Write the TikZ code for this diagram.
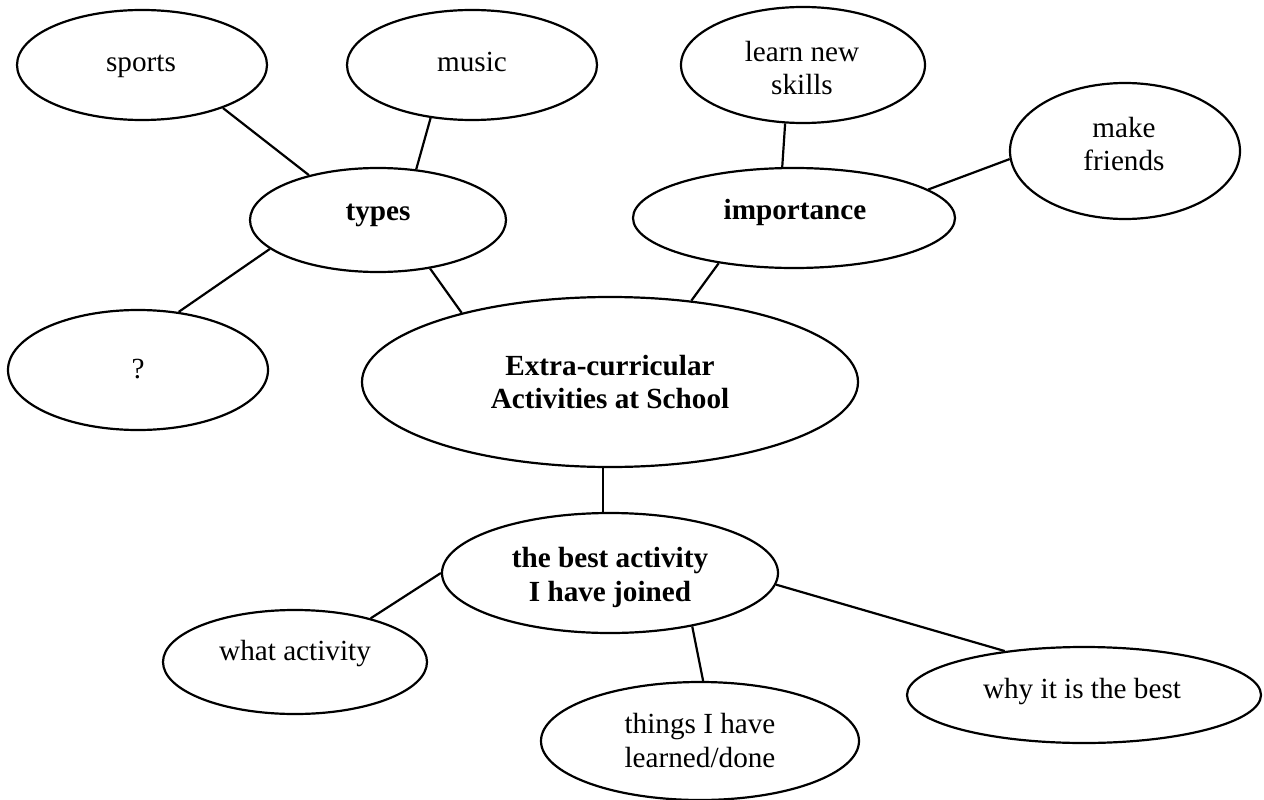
\documentclass[tikz,border=0pt]{standalone}
\usepackage{fontspec}
\setmainfont{Liberation Serif}
\usetikzlibrary{shapes.geometric}
\begin{document}
\begin{tikzpicture}[x=1pt,y=-1pt,
  bub/.style={draw=black,line width=2.2pt,ellipse,inner sep=0pt},
  txt/.style={inner sep=0pt,anchor=base,font=\fontsize{29.2}{33}\selectfont},
  btxt/.style={txt,font=\fontsize{29.2}{33}\selectfont\bfseries},
  link/.style={draw=black,line width=2.2pt}]
\useasboundingbox (0,0) rectangle (1264,800);
% ellipses
\node[bub,minimum width=250,minimum height=110] (sports) at (142,65) {};
\node[bub,minimum width=250,minimum height=110] (music) at (472,65) {};
\node[bub,minimum width=244,minimum height=116] (learn) at (803,65) {};
\node[bub,minimum width=230,minimum height=136] (make) at (1125,151) {};
\node[bub,minimum width=256,minimum height=104] (types) at (378,220) {};
\node[bub,minimum width=322,minimum height=100] (imp) at (794,218) {};
\node[bub,minimum width=260,minimum height=120] (q) at (138,370) {};
\node[bub,minimum width=496,minimum height=170] (ctr) at (610,382) {};
\node[bub,minimum width=336,minimum height=120] (best) at (610,573) {};
\node[bub,minimum width=264,minimum height=104] (what) at (295,662) {};
\node[bub,minimum width=318,minimum height=118] (things) at (700,741) {};
\node[bub,minimum width=354,minimum height=96] (why) at (1084,695) {};
% texts
\node[txt] (sportsT) at (141,72) {sports};
\node[txt] (musicT) at (472,72) {music};
\node[txt] (learnT1) at (802,62) {learn new};
\node[txt] (learnT2) at (802,95) {skills};
\node[txt] (makeT1) at (1124,137) {make};
\node[txt] (makeT2) at (1124,170) {friends};
\node[btxt] (typesT) at (378,220) {types};
\node[btxt] (impT) at (795,219) {importance};
\node[txt] (qT) at (138,378) {?};
\node[btxt] (ctrT1) at (610,375) {Extra-curricular};
\node[btxt] (ctrT2) at (610,408) {Activities at School};
\node[btxt] (bestT1) at (610,567) {the best activity};
\node[btxt] (bestT2) at (610,601) {I have joined};
\node[txt] (whatT) at (295,660) {what activity};
\node[txt] (thingsT1) at (700,733) {things I have};
\node[txt] (thingsT2) at (700,767) {learned/done};
\node[txt] (whyT) at (1082,698) {why it is the best};
% connectors
\draw[link] (sports.-28) -- (types.147);
\draw[link] (music.-128) -- (types.53);
\draw[link] (q.55) -- (types.-165);
\draw[link] (types.-43) -- (ctr.155);
\draw[link] (learn.-107) -- (imp.103);
\draw[link] (make.-176) -- (imp.12);
\draw[link] (imp.-149) -- (ctr.45);
\draw[link] ([xshift=-7pt]ctr.south) -- ([xshift=-7pt]best.north);
\draw[link] (best.180) -- (what.30);
\draw[link] (best.-33) -- (things.87);
\draw[link] (best.-4) -- (why.151);
\end{tikzpicture}
\end{document}
